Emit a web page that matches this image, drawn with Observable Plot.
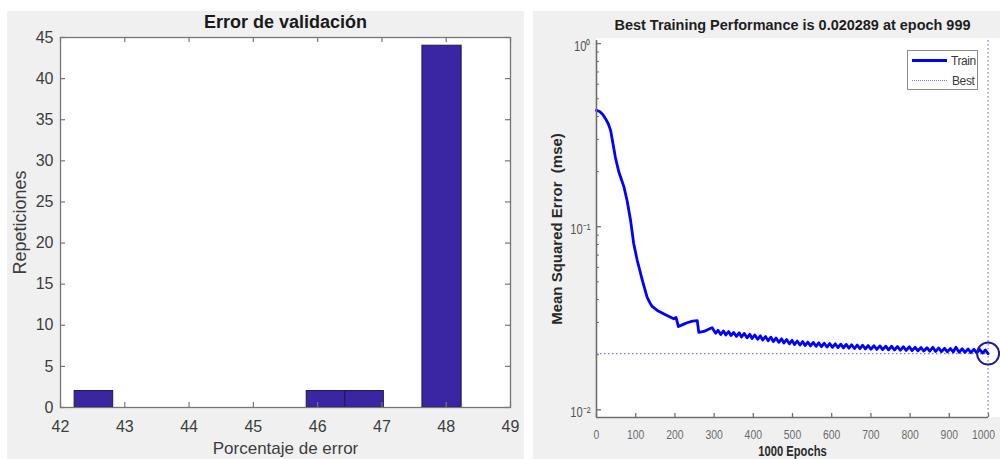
<!DOCTYPE html>
<html>
<head>
<meta charset="utf-8">
<script src="https://cdn.jsdelivr.net/npm/d3@7"></script>
<script src="https://cdn.jsdelivr.net/npm/@observablehq/plot@0.6"></script>
<style>
  html, body { margin: 0; padding: 0; background: #fff; }
  #page { position: relative; width: 1000px; height: 459px; overflow: hidden;
          font-family: "Liberation Sans", Arial, Helvetica, sans-serif; }
  .panel { position: absolute; background: #f0f0f0; }
  #leftPanel { left: 7px; top: 11px; width: 517px; height: 448px; }
  #rightPanel { left: 533px; top: 11px; width: 467px; height: 448px; }
  #rightPlotBg { position: absolute; left: 596px; top: 38px; width: 404px; height: 379px; background: #fff; }
  #leftChart, #rightChart { position: absolute; top: 0; }
  #leftChart { left: 0; }
  #rightChart { left: 540px; }
  svg text { white-space: pre; }
  .legend { position: absolute; left: 907px; top: 50px; width: 69px; height: 38px;
            border: 1.5px solid #8c8c8c; background: #fff; }
  .legend .sw-train { position: absolute; left: 4px; top: 8px; width: 35px; height: 3px; background: #0000ff; }
  .legend .sw-best { position: absolute; left: 4px; top: 29px; width: 35px; height: 0; border-top: 1.2px dotted #7676ee; }
  .legend .lab { position: absolute; font-size: 12px; line-height: 14px; color: #3a3a3a; letter-spacing: -0.4px; }
</style>
</head>
<body>
<div id="page">
  <div class="panel" id="leftPanel"></div>
  <div class="panel" id="rightPanel"></div>
  <div id="rightPlotBg"></div>
  <div id="leftChart"></div>
  <div id="rightChart"></div>
  <div class="legend">
    <div class="sw-train"></div><div class="lab" id="legTrain" style="left:43px;top:3px;"></div>
    <div class="sw-best"></div><div class="lab" id="legBest" style="left:44px;top:23px;"></div>
  </div>
</div>
<script>
// ---------- Validation error histogram ----------
const leftTitle = "Error de validación";
const leftXLabel = "Porcentaje de error";
const leftYLabel = "Repeticiones";
const binEdges = [42.22, 42.82, 43.42, 44.03, 44.63, 45.23, 45.83, 46.43, 47.03, 47.63, 48.24];
const binCounts = [2, 0, 0, 0, 0, 0, 2, 2, 0, 44];
const leftXTicks = [42, 43, 44, 45, 46, 47, 48, 49];
const leftYTicks = [0, 5, 10, 15, 20, 25, 30, 35, 40, 45];

// ---------- Training performance (log scale) ----------
const rightTitle = "Best Training Performance is 0.020289 at epoch 999";
const rightXLabel = "1000 Epochs";
const rightYLabel = "Mean Squared Error  (mse)";
const legendLabels = ["Train", "Best"];
const bestEpoch = 999;
const bestPerf = 0.020289;
const rightXTicks = [0, 100, 200, 300, 400, 500, 600, 700, 800, 900, 1000];
const rightYMajor = [0.01, 0.1, 1];
const rightYTickText = ["10\u207B\u00B2", "10\u207B\u00B9", "10\u2070"];
const rightYMinor = [0.02, 0.03, 0.04, 0.05, 0.06, 0.07, 0.08, 0.09,
                     0.2, 0.3, 0.4, 0.5, 0.6, 0.7, 0.8, 0.9];
const rightYDomain = [0.00908, 1.04];
// [epoch, mse]
const trainCurve = [
  [0,0.432],[8,0.426],[16,0.410],[23,0.389],[30,0.365],[36,0.336],[42,0.285],[48,0.240],
  [57,0.199],[64,0.180],[70,0.165],[78,0.139],[87,0.108],[95,0.0807],[104,0.0654],[117,0.0509],
  [129,0.0412],[136,0.0385],[142,0.0367],[155,0.0349],[176,0.0331],[197,0.0314],[203,0.0319],
  [209,0.0285],[220,0.0292],[231,0.0299],[245,0.0305],[257,0.0307],[261,0.0265],[274,0.0268],
  [290,0.0278],[295,0.0281],[304,0.0262],
  [310,0.02719],[317,0.02579],[324,0.02695],[330,0.02563],[337,0.02678],[343,0.02546],
  [350,0.02645],[357,0.02520],[364,0.02635],[370,0.02499],[377,0.02612],[384,0.02473],
  [391,0.02586],[397,0.02452],[404,0.02563],[411,0.02427],[418,0.02536],[424,0.02406],
  [431,0.02514],[438,0.02385],[445,0.02492],[451,0.02361],[458,0.02467],[465,0.02337],
  [472,0.02443],[478,0.02317],[485,0.02421],[492,0.02294],[499,0.02397],[505,0.02273],
  [512,0.02376],[519,0.02259],[526,0.02361],[532,0.02245],[539,0.02346],[546,0.02234],
  [553,0.02334],[560,0.02223],[567,0.02322],[574,0.02211],[581,0.02311],[588,0.02203],
  [595,0.02302],[602,0.02195],[609,0.02294],[616,0.02186],[623,0.02285],[630,0.02178],
  [637,0.02276],[644,0.02170],[651,0.02267],[658,0.02162],[665,0.02259],[672,0.02157],
  [679,0.02253],[686,0.02149],[693,0.02245],[700,0.02143],[708,0.02239],[715,0.02138],
  [723,0.02234],[730,0.02133],[738,0.02228],[745,0.02127],[753,0.02223],[760,0.02122],
  [768,0.02217],[775,0.02116],[783,0.02211],[790,0.02111],[798,0.02211],[805,0.02106],
  [813,0.02195],[820,0.02100],[828,0.02189],[835,0.02095],[843,0.02184],[850,0.02090],
  [858,0.02195],[865,0.02084],[873,0.02176],[880,0.02079],[888,0.02168],[895,0.02074],
  [903,0.02162],[910,0.02069],[917,0.02195],[925,0.02064],[933,0.02154],[940,0.02059],
  [948,0.02149],[955,0.02053],[963,0.02141],[970,0.02048],[978,0.02135],[985,0.02040],
  [992,0.02122],[999,0.020289]
];

const fontFamily = '"Liberation Sans", Arial, Helvetica, sans-serif';

// ----- left chart -----
const W1 = 524, H1 = 459, ML1 = 60, MR1 = 14, MT1 = 37, MB1 = 52;
const pw1 = W1 - ML1 - MR1, ph1 = H1 - MT1 - MB1;
const axisGray1 = "#767676", textGray1 = "#3d3d3d";
const bins = binCounts
  .map((count, i) => ({x1: binEdges[i], x2: binEdges[i + 1], count}))
  .filter(d => d.count > 0);

const leftChart = Plot.plot({
  width: W1, height: H1,
  marginLeft: ML1, marginRight: MR1, marginTop: MT1, marginBottom: MB1,
  style: {background: "transparent", fontFamily, overflow: "visible"},
  x: {domain: [42, 49], label: null},
  y: {domain: [0, 45], label: null},
  marks: [
    Plot.frame({fill: "white", stroke: null}),
    Plot.rectY(bins, {x1: "x1", x2: "x2", y: "count", fill: "#3a25a2", stroke: "#1f1650", strokeWidth: 1}),
    Plot.frame({stroke: axisGray1, strokeWidth: 1.3}),
    // inward ticks on all four sides
    Plot.tickX(leftXTicks, {x: d => d, insetTop: ph1 - 5, stroke: axisGray1, strokeWidth: 1.2}),
    Plot.tickX(leftXTicks, {x: d => d, insetBottom: ph1 - 5, stroke: axisGray1, strokeWidth: 1.2}),
    Plot.tickY(leftYTicks, {y: d => d, insetRight: pw1 - 5, stroke: axisGray1, strokeWidth: 1.2}),
    Plot.tickY(leftYTicks, {y: d => d, insetLeft: pw1 - 5, stroke: axisGray1, strokeWidth: 1.2}),
    Plot.axisX(leftXTicks, {tickSize: 0, tickPadding: 13, fontSize: 16, color: textGray1, label: null}),
    Plot.axisY(leftYTicks, {tickSize: 0, tickPadding: 7, fontSize: 16, color: textGray1, label: null}),
    Plot.text([leftTitle], {text: d => d, frameAnchor: "top", dy: -15, lineAnchor: "middle",
      fontSize: 18, fontWeight: "bold", fill: "#1a1a1a"}),
    Plot.text([leftXLabel], {text: d => d, frameAnchor: "bottom", dy: 41, lineAnchor: "middle",
      fontSize: 17, fill: textGray1}),
    Plot.text([leftYLabel], {text: d => d, frameAnchor: "left", dx: -40, rotate: -90,
      textAnchor: "middle", fontSize: 18, fill: textGray1})
  ]
});
document.getElementById("leftChart").append(leftChart);

// ----- right chart -----
const W2 = 460, H2 = 459, ML2 = 56, MR2 = 12, MT2 = 40, MB2 = 42;
const pw2 = W2 - ML2 - MR2, ph2 = H2 - MT2 - MB2;
const axisGray2 = "#6f6f6f", bestColor = "#7676ee";

const rightChart = Plot.plot({
  width: W2, height: H2,
  marginLeft: ML2, marginRight: MR2, marginTop: MT2, marginBottom: MB2,
  style: {background: "transparent", fontFamily, overflow: "visible"},
  x: {domain: [0, 1000], label: null},
  y: {type: "log", domain: rightYDomain, label: null},
  marks: [
    Plot.ruleY([bestPerf], {stroke: bestColor, strokeWidth: 1.2, strokeDasharray: "1.5,2.5"}),
    Plot.ruleX([bestEpoch], {stroke: bestColor, strokeWidth: 1.2, strokeDasharray: "1.5,2.5"}),
    Plot.line(trainCurve, {x: d => d[0], y: d => d[1], stroke: "#0000ff", strokeWidth: 2.8,
      strokeLinejoin: "round"}),
    Plot.dot([[bestEpoch, bestPerf]], {x: d => d[0], y: d => d[1], r: 11, stroke: "#1e1e96",
      strokeWidth: 2, fill: "none"}),
    Plot.ruleX([0], {stroke: axisGray2, strokeWidth: 1.6}),
    Plot.ruleY([rightYDomain[0]], {stroke: axisGray2, strokeWidth: 1.6}),
    Plot.tickX(rightXTicks, {x: d => d, insetTop: ph2 - 4, stroke: axisGray2, strokeWidth: 1.3}),
    Plot.tickY(rightYMajor, {y: d => d, insetRight: pw2 - 5, stroke: axisGray2, strokeWidth: 1.3}),
    Plot.tickY(rightYMinor, {y: d => d, insetRight: pw2 - 3, stroke: axisGray2, strokeWidth: 1}),
    Plot.axisX(rightXTicks, {tickSize: 0, tickPadding: 12, fontSize: 13, color: "#6b6b6b",
      tickFormat: d => String(d), label: null}),
    Plot.axisY(rightYMajor, {tickSize: 0, tickPadding: 6, fontSize: 14, color: "#555",
      tickFormat: d => rightYTickText[rightYMajor.indexOf(d)], label: null, dy: 3}),
    Plot.text([rightTitle], {text: d => d, frameAnchor: "top", dy: -15, lineAnchor: "middle",
      fontSize: 14, fontWeight: "bold", fill: "#1e1e1e"}),
    Plot.text([rightXLabel], {text: d => d, frameAnchor: "bottom", dy: 34, lineAnchor: "middle",
      fontSize: 14, fontWeight: "bold", fill: "#2a2a2a"}),
    Plot.text([rightYLabel], {text: d => d, frameAnchor: "left", dx: -39, rotate: -90,
      textAnchor: "middle", fontSize: 15, fontWeight: "bold", fill: "#2a2a2a"})
  ]
});
document.getElementById("rightChart").append(rightChart);

// Narrow typeface look for the horizontal texts of the performance plot
rightChart.querySelectorAll("text").forEach(t => {
  const s = t.textContent;
  if (s === rightYLabel) return;
  if (s === rightTitle) {
    t.setAttribute("textLength", 356);
    t.setAttribute("lengthAdjust", "spacingAndGlyphs");
    return;
  }
  const len = t.getComputedTextLength();
  if (len > 0) {
    const narrow = len * 0.8;
    t.setAttribute("textLength", narrow.toFixed(1));
    t.setAttribute("lengthAdjust", "spacingAndGlyphs");
    // the last epoch label sits at the window edge: right-align it near its tick
    if (s === String(rightXTicks[rightXTicks.length - 1])) {
      t.setAttribute("text-anchor", "end");
      t.setAttribute("dx", (narrow / 2 - 5).toFixed(1));
    }
  }
});

document.getElementById("legTrain").textContent = legendLabels[0];
document.getElementById("legBest").textContent = legendLabels[1];
</script>
</body>
</html>
